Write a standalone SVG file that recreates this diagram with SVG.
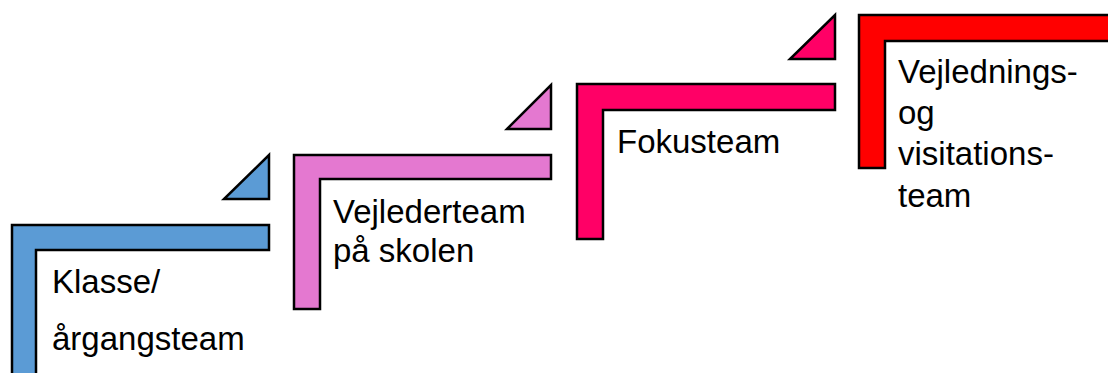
<svg xmlns="http://www.w3.org/2000/svg" width="1108" height="373" viewBox="0 0 1108 373">
<style>
.s{stroke:#000;stroke-width:2.5;stroke-linejoin:miter}
.t{font-family:"Liberation Sans",Arial,sans-serif;font-size:33px;fill:#000}
</style>
<rect width="1108" height="373" fill="#fff"/>
<g id="node-klasse">
<path class="s" fill="#5B9BD5" d="M12,225 H269 V250 H36 V380 H12 Z"/>
<path class="s" fill="#5B9BD5" d="M269,155 V199 H224 Z"/>
<text class="t" x="52" y="293">Klasse/</text>
<text class="t" x="52" y="350">årgangsteam</text>
</g>
<g id="node-vejlederteam">
<path class="s" fill="#E478D0" d="M294,155 H551 V179 H320 V309 H294 Z"/>
<path class="s" fill="#E478D0" d="M551,85 V129 H507 Z"/>
<text class="t" x="333" y="223">Vejlederteam</text>
<text class="t" x="333" y="262">på skolen</text>
</g>
<g id="node-fokusteam">
<path class="s" fill="#FF0066" d="M577,84 H835 V110 H603 V239 H577 Z"/>
<path class="s" fill="#FF0066" d="M835,15 V59 H790 Z"/>
<text class="t" x="617" y="153">Fokusteam</text>
</g>
<g id="node-vejledning">
<path class="s" fill="#FF0000" d="M859,15 H1115 V41 H885 V168 H859 Z"/>
<text class="t" x="898" y="83">Vejlednings-</text>
<text class="t" x="898" y="124">og</text>
<text class="t" x="898" y="165">visitations-</text>
<text class="t" x="898" y="207">team</text>
</g>
<g id="connectors"></g>
</svg>
